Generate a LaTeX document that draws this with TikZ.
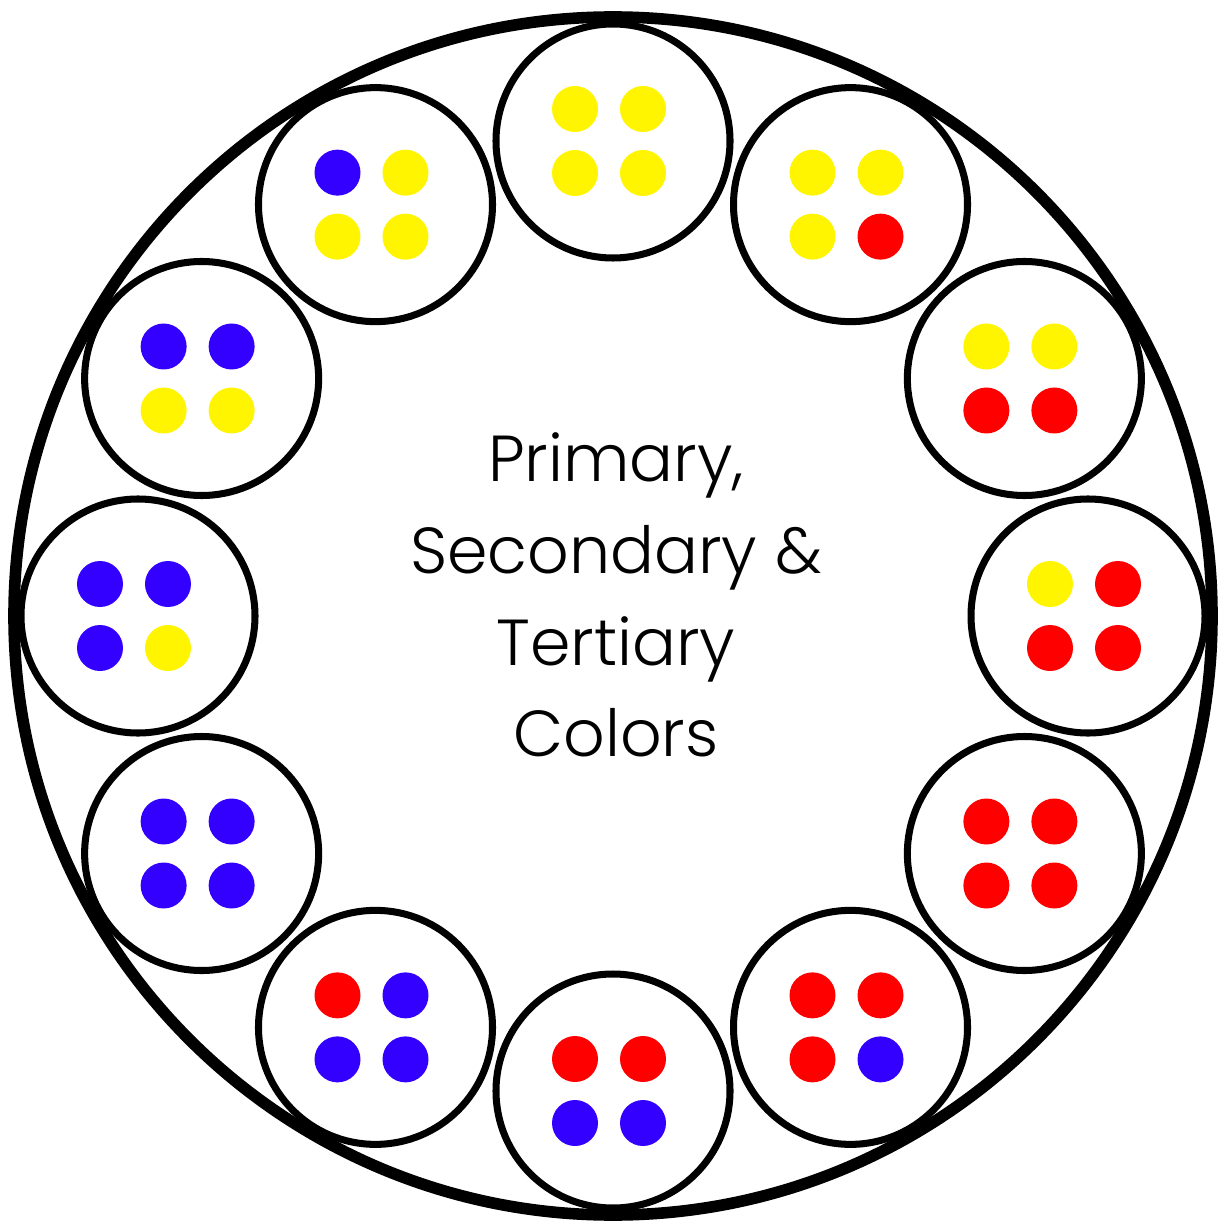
\documentclass[tikz,border=0pt]{standalone}
\usepackage{fontspec}
\setmainfont{Poppins Light}
\usetikzlibrary{positioning}
\definecolor{wheelyellow}{HTML}{FFF500}
\definecolor{wheelred}{HTML}{FF0000}
\definecolor{wheelblue}{HTML}{3300FF}

\begin{document}
\begin{tikzpicture}[
    cell/.style={draw, circle, line width=2pt, inner sep=0pt, minimum size=2.34cm}
  ]
    \useasboundingbox (-6.13,-6.08) rectangle (6.12,6.16);
    \node[draw, circle, line width=3.3pt, inner sep=0pt, minimum size=11.98cm] (wheel) at (0,0) {};
    \foreach \a/\tl/\tr/\bl/\br [count=\i] in {
        90/wheelyellow/wheelyellow/wheelyellow/wheelyellow,
        60/wheelyellow/wheelyellow/wheelyellow/wheelred,
        30/wheelyellow/wheelyellow/wheelred/wheelred,
        0/wheelyellow/wheelred/wheelred/wheelred,
        -30/wheelred/wheelred/wheelred/wheelred,
        -60/wheelred/wheelred/wheelred/wheelblue,
        -90/wheelred/wheelred/wheelblue/wheelblue,
        -120/wheelred/wheelblue/wheelblue/wheelblue,
        -150/wheelblue/wheelblue/wheelblue/wheelblue,
        180/wheelblue/wheelblue/wheelblue/wheelyellow,
        150/wheelblue/wheelblue/wheelyellow/wheelyellow,
        120/wheelblue/wheelyellow/wheelyellow/wheelyellow} {
      \node[cell] (mix\i) at (\a:4.75) {};
      \fill[\tl] ([shift={(-0.38,0.32)}]mix\i.center) circle (0.23);
      \fill[\tr] ([shift={(0.30,0.32)}]mix\i.center) circle (0.23);
      \fill[\bl] ([shift={(-0.38,-0.32)}]mix\i.center) circle (0.23);
      \fill[\br] ([shift={(0.30,-0.32)}]mix\i.center) circle (0.23);
    }
    \node[align=center, font=\fontsize{18.5}{26.1}\selectfont] (title) at (0.03,0.21)
      {Primary,\\Secondary \&\\Tertiary\\Colors};
  \end{tikzpicture}
\end{document}
